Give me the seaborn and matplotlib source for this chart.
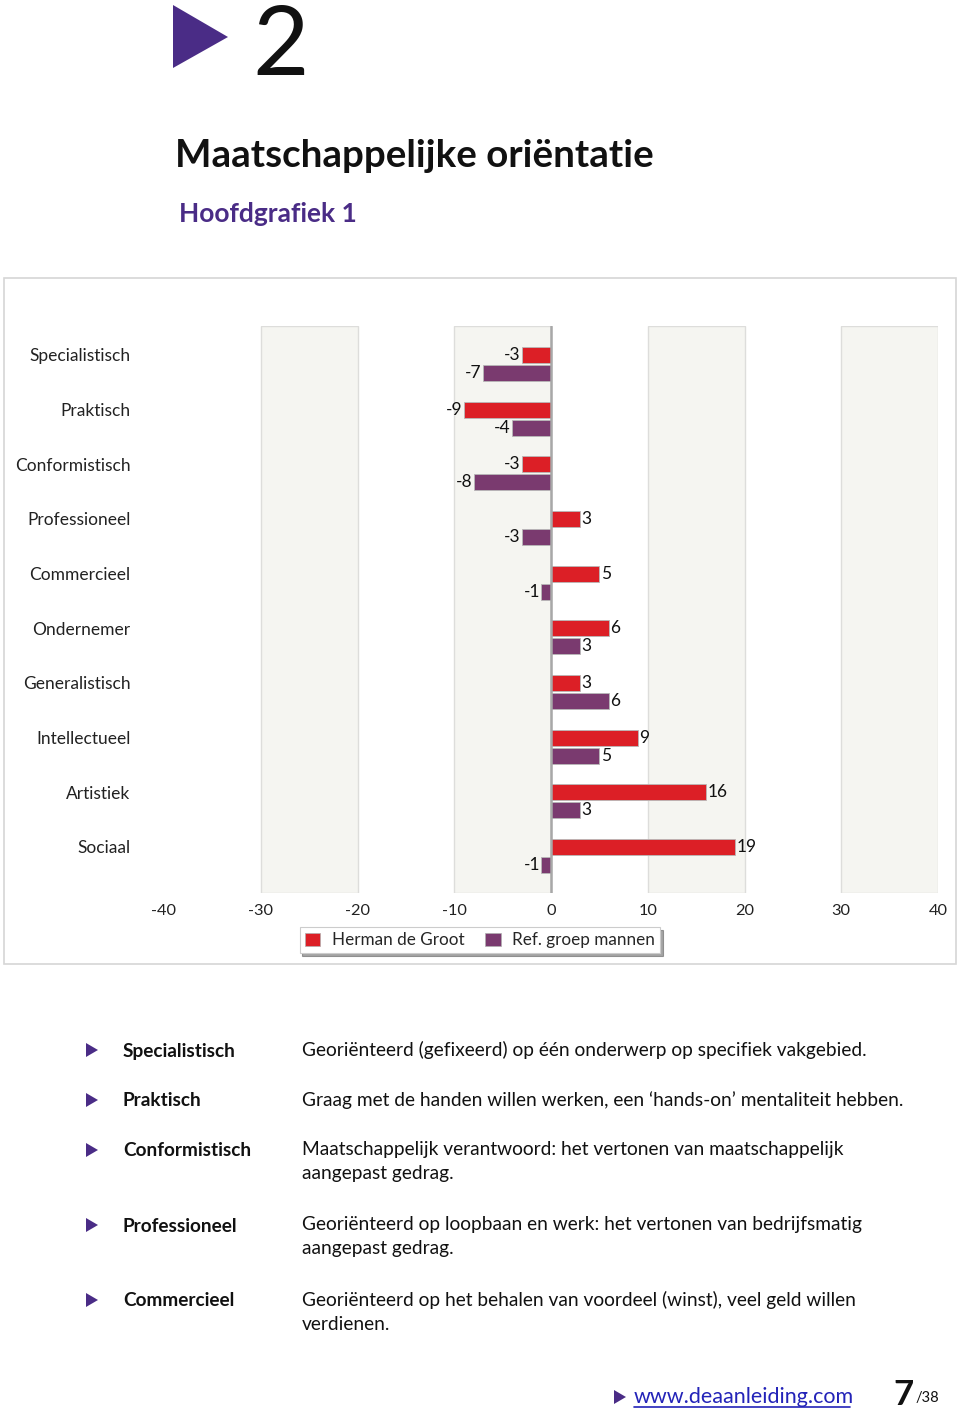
import matplotlib
matplotlib.use("Agg")
import matplotlib.pyplot as plt
import seaborn as sns
import pandas as pd
from matplotlib.patches import Polygon, Rectangle
from matplotlib.lines import Line2D

categories = ["Specialistisch", "Praktisch", "Conformistisch", "Professioneel",
              "Commercieel", "Ondernemer", "Generalistisch", "Intellectueel",
              "Artistiek", "Sociaal"]
herman = [-3, -9, -3, 3, 5, 6, 3, 9, 16, 19]
ref_mannen = [-7, -4, -8, -3, -1, 3, 6, 5, 3, -1]
series_names = ["Herman de Groot", "Ref. groep mannen"]
x_ticks = [-40, -30, -20, -10, 0, 10, 20, 30, 40]

terms = ["Specialistisch", "Praktisch", "Conformistisch", "Professioneel", "Commercieel"]
descriptions = [
    "Georiënteerd (gefixeerd) op één onderwerp op specifiek vakgebied.",
    "Graag met de handen willen werken, een \u2018hands-on\u2019 mentaliteit hebben.",
    "Maatschappelijk verantwoord: het vertonen van maatschappelijk\naangepast gedrag.",
    "Georiënteerd op loopbaan en werk: het vertonen van bedrijfsmatig\naangepast gedrag.",
    "Georiënteerd op het behalen van voordeel (winst), veel geld willen\nverdienen.",
]

RED = "#dc1f26"
PURPLE = "#7a3a6f"
DARK_PURPLE = "#4a2c86"

sns.set_theme(style="white")
plt.rcParams["font.family"] = ["Lato", "DejaVu Sans"]

W, H = 960, 1410
fig = plt.figure(figsize=(W / 100, H / 100), dpi=100)

def fx(px):
    return px / W

def fy(py):
    return 1 - py / H

# chart frame
fig.patches.append(Rectangle((fx(4), fy(964)), fx(956) - fx(4), fy(278) - fy(964),
                             transform=fig.transFigure, facecolor="none",
                             edgecolor="#d6d6d6", lw=1.2, zorder=-1))

ax = fig.add_axes([fx(164), fy(893), fx(938) - fx(164), fy(326) - fy(893)])
ax.set_facecolor("none")

df = pd.DataFrame({
    "categorie": categories * 2,
    "waarde": herman + ref_mannen,
    "reeks": [series_names[0]] * len(categories) + [series_names[1]] * len(categories),
})

for lo in (-30, -10, 10, 30):
    ax.axvspan(lo, lo + 10, facecolor="#f5f5f1", edgecolor="#dddddb", lw=1.0, zorder=0)

sns.barplot(data=df, y="categorie", x="waarde", hue="reeks", order=categories,
            hue_order=series_names, palette=[RED, PURPLE], orient="h", saturation=1,
            width=0.66, gap=0.1, ax=ax, legend=False, zorder=3,
            edgecolor="#b8b8b8", linewidth=0.6)

ax.axvline(0, color="#a8a8a8", lw=1.8, zorder=4)

for cont in ax.containers:
    ax.bar_label(cont, fmt="%d", padding=1, fontsize=12.5, color="#111111", zorder=5)

ax.set_xlim(-40, 40)
ax.set_ylim(9.677, -0.695)
ax.set_xticks(x_ticks)
ax.set_xticklabels([str(t) for t in x_ticks], fontsize=11.8, color="#222222")
# category labels sit level with the first (red) bar of each group
ax.set_yticks([i - 0.165 for i in range(len(categories))])
ax.set_yticklabels(categories)
ax.tick_params(axis="x", length=0, pad=8)
ax.tick_params(axis="y", length=0, pad=24, labelsize=12.5, labelcolor="#222222")
ax.set_xlabel("")
ax.set_ylabel("")
for s in ax.spines.values():
    s.set_visible(False)
ax.grid(False)

handles = [Rectangle((0, 0), 1, 1, facecolor=RED, edgecolor="#b0b0b0", lw=0.5),
           Rectangle((0, 0), 1, 1, facecolor=PURPLE, edgecolor="#b0b0b0", lw=0.5)]
leg = fig.legend(handles, series_names, loc="center", bbox_to_anchor=(fx(480), fy(940)),
                 ncol=2, fontsize=12.3, frameon=True, fancybox=False, shadow=True,
                 handlelength=0.9, handleheight=0.8, handletextpad=0.7, columnspacing=1.2,
                 borderpad=0.3, edgecolor="#cccccc")
leg.get_frame().set_linewidth(0.8)

# header
fig.patches.append(Polygon([(fx(173), fy(5)), (fx(173), fy(68)), (fx(228), fy(37))],
                           closed=True, transform=fig.transFigure, facecolor=DARK_PURPLE,
                           edgecolor="none"))
fig.text(fx(252), fy(75), "2", fontsize=70, fontweight="normal", color="#111111",
         ha="left", va="baseline")
fig.text(fx(175), fy(167), "Maatschappelijke oriëntatie", fontsize=27.7, fontweight="bold",
         color="#111111", ha="left", va="baseline")
fig.text(fx(179), fy(222), "Hoofdgrafiek 1", fontsize=19, fontweight="bold",
         color=DARK_PURPLE, ha="left", va="baseline")

# descriptions list
row_y = [1050, 1100, 1150, 1225, 1300]
for yy, term, desc in zip(row_y, terms, descriptions):
    fig.patches.append(Polygon([(fx(86), fy(yy - 7)), (fx(86), fy(yy + 7)), (fx(98), fy(yy))],
                               closed=True, transform=fig.transFigure,
                               facecolor=DARK_PURPLE, edgecolor="none"))
    fig.text(fx(123), fy(yy + 1), term, fontsize=13.7, fontweight="bold", color="#111111",
             ha="left", va="center")
    fig.text(fx(302), fy(yy - 9), desc, fontsize=13.8, color="#111111",
             ha="left", va="top", linespacing=1.5)

# footer
fig.patches.append(Polygon([(fx(614), fy(1390)), (fx(614), fy(1404)), (fx(626), fy(1397))],
                           closed=True, transform=fig.transFigure,
                           facecolor=DARK_PURPLE, edgecolor="none"))
fig.text(fx(634), fy(1397), "www.deaanleiding.com", fontsize=15.5, color="#2323b8",
         ha="left", va="center")
fig.lines.append(Line2D([fx(634), fx(850)], [fy(1407), fy(1407)], transform=fig.transFigure,
                        color="#2323b8", lw=1.2))
fig.text(fx(893), fy(1405), "7", fontsize=25, fontweight="bold", color="#111111",
         ha="left", va="baseline")
fig.text(fx(916), fy(1402), "/38", fontsize=10.5, color="#111111", ha="left", va="baseline")

fig.savefig("out.png", dpi=100)
